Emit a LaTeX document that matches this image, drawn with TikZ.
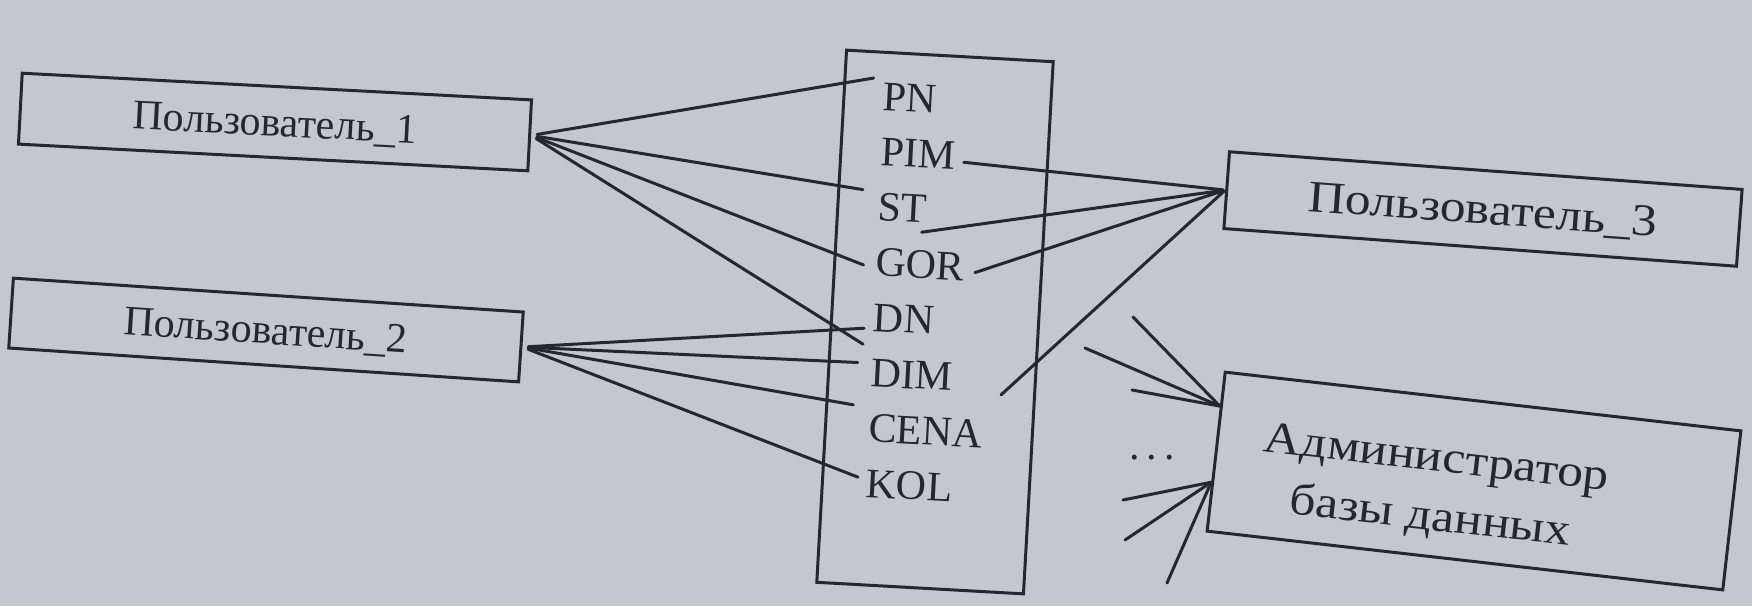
\documentclass[tikz,border=0pt]{standalone}
\usepackage{fontspec}
\setmainfont{Liberation Serif}
\newfontfamily\widefont[FakeStretch=1.15]{Liberation Serif}
\usetikzlibrary{calc}
\definecolor{paper}{RGB}{198,199,205}
\definecolor{ink}{RGB}{38,38,48}

\begin{document}
\begin{tikzpicture}[x=0.5pt,y=-0.5pt,
  box/.style={draw=ink, line width=1.5pt, inner sep=0pt, text=ink, text depth=0pt,
              font=\fontsize{21}{25}\selectfont},
  widebox/.style={box, font=\widefont\fontsize{22.5}{29.5}\selectfont},
  field/.style={anchor=base west, inner sep=0pt, text height=14pt, text depth=0pt,
                text=ink, rotate=-3, font=\fontsize{21}{25}\selectfont},
  wire/.style={draw=ink, line width=1.5pt, line cap=round},
]
% page
\fill[paper] (0,0) rectangle (1752,606);
\useasboundingbox (0,0) rectangle (1752,606);

% users and administrator
\node[box, minimum width=255pt, minimum height=35.5pt, rotate=-3] (u1) at (275,122) {Пользователь\_1};
\node[box, minimum width=255.5pt, minimum height=35pt, rotate=-3.8] (u2) at (266,330) {Пользователь\_2};
\node[widebox, minimum width=257pt, minimum height=38.5pt, rotate=-4.2] (u3) at (1483,209) {Пользователь\_3};
\node[box, minimum width=259.5pt, minimum height=80pt, rotate=-6.5] (dba) at (1474,481) {};
\node[inner sep=0pt, align=center, text=ink, rotate=-6.5,
      font=\widefont\fontsize{22.5}{29.5}\selectfont] (dbatext) at (1433,490) {Администратор\\базы данных};

% table with its fields
\node[box, minimum width=103.5pt, minimum height=266.5pt, rotate=-3.2] (tbl) at (935,322) {};
\node[field] (pn)   at (882.0,110.0) {PN};
\node[field] (pim)  at (879.6,165.3) {PIM};
\node[field] (st)   at (877.2,220.6) {ST};
\node[field] (gor)  at (874.8,275.9) {GOR};
\node[field] (dn)   at (872.4,331.2) {DN};
\node[field] (dim)  at (870.0,386.5) {DIM};
\node[field] (cena) at (867.6,441.8) {CENA};
\node[field] (kol)  at (865.2,497.1) {KOL};

% user 1
\draw[wire, shorten <=3pt] (u1.east) -- ($(pn.west)+(-9,-18)$);
\draw[wire, shorten <=3pt] (u1.east) -- ($(st.west)+(-15,-17)$);
\draw[wire, shorten <=3pt] (u1.east) -- ($(gor.west)+(-12,3)$);
\draw[wire, shorten <=3pt] (u1.east) -- ($(dn.west)+(-10,27)$);
% user 2
\draw[wire, shorten <=3pt] (u2.east) -- ($(dn.west)+(-9,11)$);
\draw[wire, shorten <=3pt] (u2.east) -- ($(dim.west)+(-13,-10)$);
\draw[wire, shorten <=3pt] (u2.east) -- ($(cena.west)+(-15,-23)$);
\draw[wire, shorten <=3pt] (u2.east) -- ($(kol.west)+(-8,-6)$);
% user 3
\draw[wire, shorten >=1pt] ($(pim.east)+(8,7)$) -- (u3.west);
\draw[wire, shorten >=1pt] ($(st.east)+(-6,23)$) -- (u3.west);
\draw[wire, shorten >=1pt] ($(gor.east)+(10,6)$) -- (u3.west);
\draw[wire, shorten >=1pt] ($(dim.east)+(48,18)$) -- (u3.west);

% administrator's other links
\coordinate (dbain1) at ($(dba.north west)!0.22!(dba.south west)$);
\coordinate (dbain2) at ($(dba.north west)!0.69!(dba.south west)$);
\coordinate (p1) at (1133,317);
\coordinate (p2) at (1085,348);
\coordinate (p3) at (1132,390);
\coordinate (q1) at (1123,500);
\coordinate (q2) at (1125,540);
\coordinate (q3) at (1167,583);
\foreach \p in {p1,p2,p3} \draw[wire] (\p) -- (dbain1);
\foreach \q in {q1,q2,q3} \draw[wire] (\q) -- (dbain2);
\node[text=ink, inner sep=0pt, font=\fontsize{21}{25}\selectfont] (more) at (1152,458) {.\,.\,.};
\end{tikzpicture}
\end{document}
